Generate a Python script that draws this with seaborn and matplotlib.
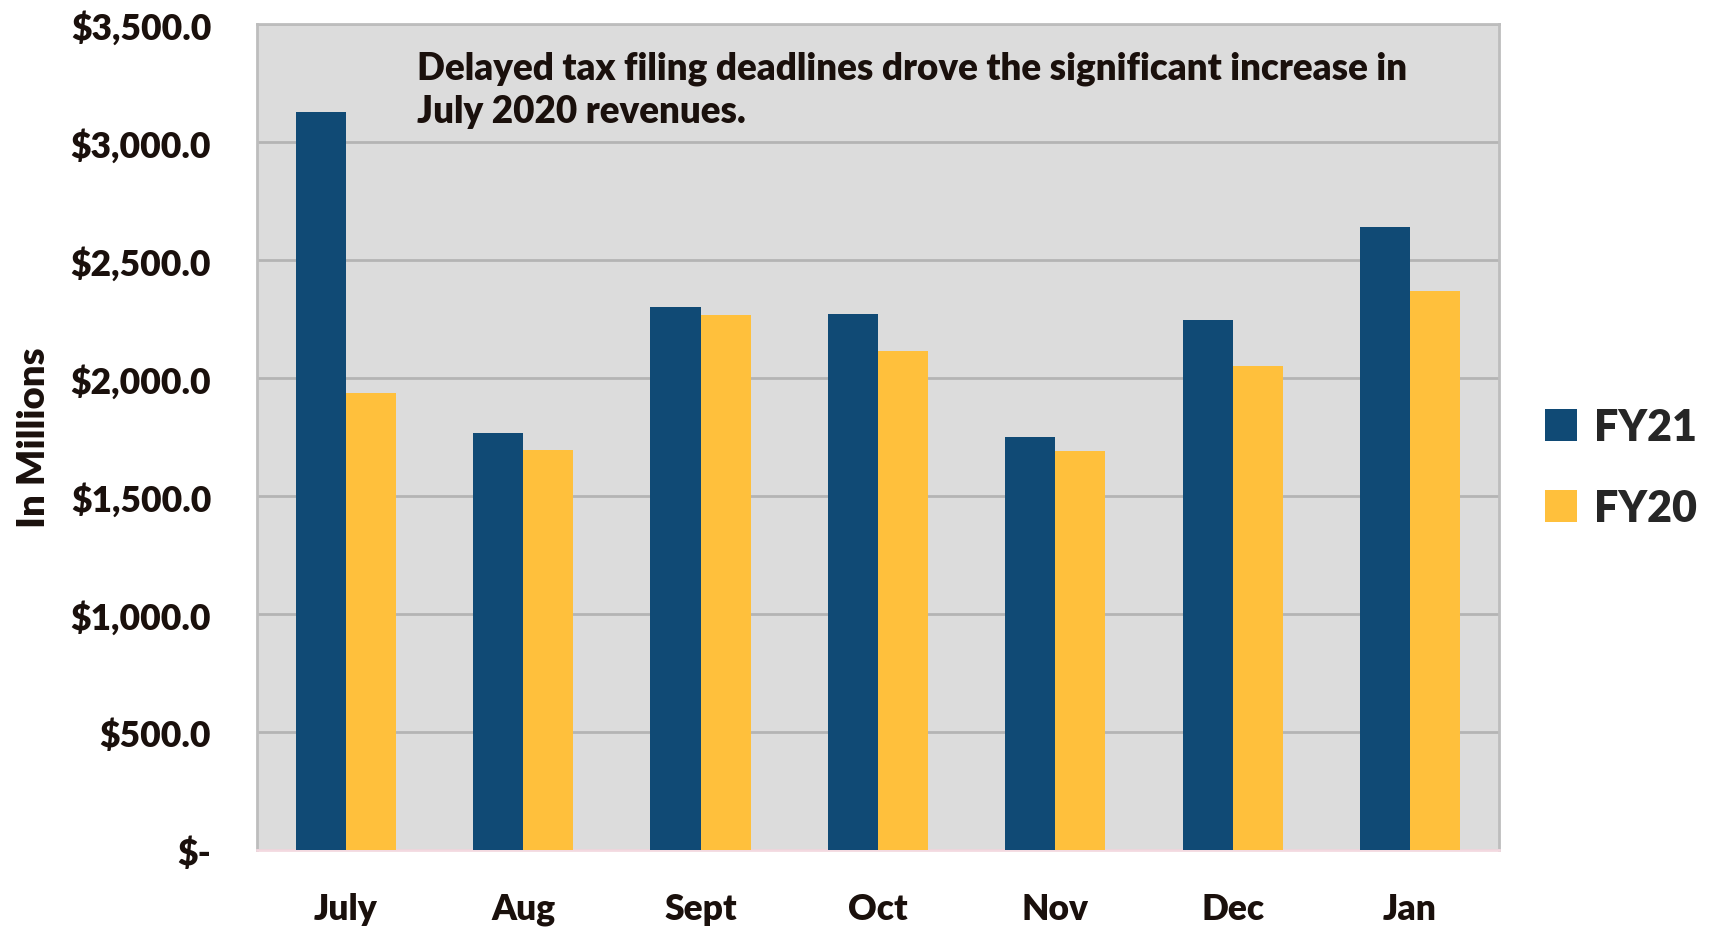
import matplotlib
matplotlib.use("Agg")
import matplotlib.pyplot as plt
import pandas as pd
import seaborn as sns
from matplotlib.patches import Patch
from matplotlib.ticker import FuncFormatter, MultipleLocator

months = ["July", "Aug", "Sept", "Oct", "Nov", "Dec", "Jan"]
fy21 = [3126, 1766, 2300, 2273, 1749, 2245, 2641]
fy20 = [1935, 1694, 2266, 2113, 1690, 2051, 2368]
series = ["FY21", "FY20"]
colors = ["#104A75", "#FFC03C"]
note = "Delayed tax filing deadlines drove the significant increase in\nJuly 2020 revenues."

frame = pd.DataFrame({
    "month": months * 2,
    "revenue": fy21 + fy20,
    "year": [series[0]] * len(months) + [series[1]] * len(months),
})

sns.set_theme(style="white")
plt.rcParams["font.family"] = ["Lato", "DejaVu Sans"]
plt.rcParams["font.weight"] = "heavy"
ink = "#1a100c"
wt = "heavy"

fig = plt.figure(figsize=(17.09, 9.28), dpi=100)
ax = fig.add_axes([0.1504, 0.083, 0.7266, 0.890])
ax.set_facecolor("#DCDCDC")
sns.barplot(data=frame, x="month", y="revenue", hue="year", palette=colors,
            width=0.565, saturation=1, linewidth=0, legend=False, ax=ax, zorder=3)

ax.set_xlim(-0.5, len(months) - 0.5)
ax.set_ylim(0, 3500)
ax.yaxis.set_major_locator(MultipleLocator(500))
ax.yaxis.set_major_formatter(
    FuncFormatter(lambda v, _: "$-" if v == 0 else f"${v:,.1f}"))
ax.grid(axis="y", color="#B4B4B4", linewidth=2, zorder=0)
ax.set_axisbelow(True)
for side in ["left", "top", "right"]:
    ax.spines[side].set_color("#BDBDBD")
    ax.spines[side].set_linewidth(2)
ax.spines["bottom"].set_color("#F3D9E0")
ax.spines["bottom"].set_linewidth(2)

ax.tick_params(axis="both", length=0, labelsize=25.5, colors=ink)
ax.tick_params(axis="x", pad=30)
ax.tick_params(axis="y", pad=33)
for lbl in ax.get_xticklabels() + ax.get_yticklabels():
    lbl.set_fontweight(wt)
ax.set_xlabel("")
ax.set_ylabel("In Millions", fontsize=27.5, fontweight=wt, color=ink, labelpad=14)

ax.text(0.1285, 0.9685, note, transform=ax.transAxes, ha="left", va="top",
        fontsize=26.5, fontweight=wt, color=ink, linespacing=1.33)

handles = [Patch(facecolor=c, edgecolor="none") for c in colors]
fig.legend(handles, series, loc="center left", bbox_to_anchor=(0.904, 0.495),
           frameon=False, prop={"weight": wt, "size": 31},
           borderpad=0, borderaxespad=0,
           handlelength=0.75, handleheight=0.75, handletextpad=0.4,
           labelspacing=0.95)

fig.savefig("out.png", dpi=100)
